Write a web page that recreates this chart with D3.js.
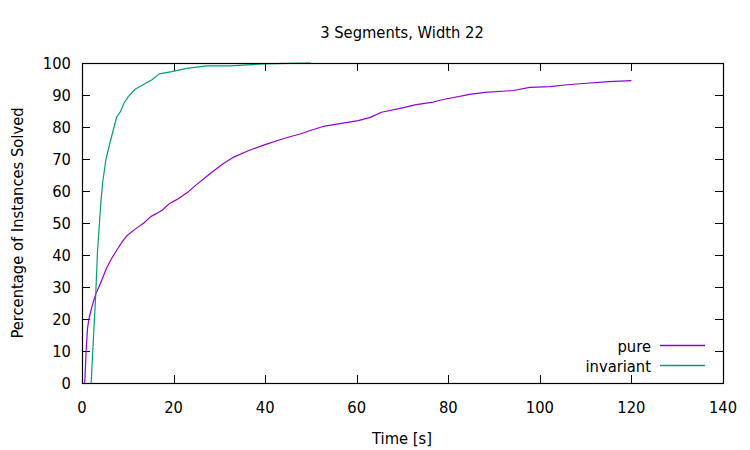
<!DOCTYPE html>
<html>
<head>
<meta charset="utf-8">
<script src="https://cdn.jsdelivr.net/npm/d3@7"></script>
<style>
  body { margin: 0; background: #fff; }
  svg text { font-family: "DejaVu Sans Condensed", "DejaVu Sans", sans-serif; font-stretch: condensed; fill: #000; }
</style>
</head>
<body>
<svg id="chart" width="750" height="450"></svg>
<script>
const title = "3 Segments, Width 22";
const xLabel = "Time [s]";
const yLabel = "Percentage of Instances Solved";
const xTicks = [0, 20, 40, 60, 80, 100, 120, 140];
const yTicks = [0, 10, 20, 30, 40, 50, 60, 70, 80, 90, 100];

const pureTime = [0.6, 0.9, 1.2, 1.5, 2.2, 3.0, 4.0, 5.4, 6.5, 7.6, 8.7, 9.8, 11.9, 13.5, 15, 16.3, 17.5, 19.2, 20.7, 23, 25, 27, 28.5, 30.8, 33, 36.7, 40, 43.2, 45, 47.6, 50, 53, 56, 60.3, 63, 65.4, 70, 73, 76.7, 78.9, 84.7, 88, 94.2, 97.8, 102.2, 106, 109.5, 115, 120];
const pureValue = [0, 10, 17, 20, 24, 27.8, 31, 36, 39, 41.5, 44, 46, 48.4, 50, 52, 53, 54, 56.2, 57.3, 59.5, 62, 64.3, 66, 68.5, 70.5, 72.8, 74.5, 76, 76.8, 77.8, 79, 80.3, 81, 82, 83, 84.6, 86, 87, 87.8, 88.6, 90.2, 90.8, 91.4, 92.4, 92.6, 93.2, 93.6, 94.2, 94.5];

const invTime = [2.0, 2.5, 3.0, 3.4, 4.15, 4.5, 5.2, 6.1, 7.0, 7.6, 8.4, 9.2, 10.1, 11.6, 13.8, 15.2, 16.9, 19.6, 22.9, 27.2, 32.3, 39.5, 45, 50];
const invValue = [0, 14, 27.8, 41.5, 57, 62.5, 69.7, 75, 80, 83.2, 84.8, 87.5, 89.5, 91.8, 93.6, 94.7, 96.6, 97.3, 98.3, 99.1, 99.1, 99.7, 99.9, 100];

const seriesNames = ["pure", "invariant"];
const seriesColors = ["#9400d3", "#009e73"];

const svg = d3.select("#chart");
const mLeft = 82, mRight = 723, mTop = 63, mBottom = 383;
const x = d3.scaleLinear().domain([0, 140]).range([mLeft, mRight]);
const y = d3.scaleLinear().domain([0, 100]).range([mBottom, mTop]);
const tickLen = 8;
const fs = 16.4;

// ticks (inside, mirrored)
const g = svg.append("g");
xTicks.forEach(t => {
  const px = Math.round(x(t)) + 0.5;
  g.append("line").attr("x1", px).attr("x2", px).attr("y1", mBottom).attr("y2", mBottom - tickLen).attr("stroke", "#000");
  g.append("line").attr("x1", px).attr("x2", px).attr("y1", mTop).attr("y2", mTop + tickLen).attr("stroke", "#000");
  g.append("text").attr("x", x(t)).attr("y", 413).attr("text-anchor", "middle").attr("font-size", fs).text(t);
});
yTicks.forEach(t => {
  const py = Math.round(y(t)) + 0.5;
  g.append("line").attr("x1", mLeft).attr("x2", mLeft + tickLen).attr("y1", py).attr("y2", py).attr("stroke", "#000");
  g.append("line").attr("x1", mRight).attr("x2", mRight - tickLen).attr("y1", py).attr("y2", py).attr("stroke", "#000");
  g.append("text").attr("x", 71).attr("y", y(t) + 6).attr("text-anchor", "end").attr("font-size", fs).text(t);
});

// data lines
const line = d3.line().x(d => x(d[0])).y(d => y(d[1]));
const pureData = pureTime.map((t, i) => [t, pureValue[i]]);
const invData = invTime.map((t, i) => [t, invValue[i]]);
[pureData, invData].forEach((d, i) => {
  svg.append("path").datum(d).attr("d", line).attr("fill", "none")
    .attr("stroke", seriesColors[i]).attr("stroke-width", 1.2).attr("stroke-linejoin", "round");
});

// border
svg.append("rect").attr("x", mLeft + 0.5).attr("y", mTop + 0.5).attr("width", mRight - mLeft).attr("height", mBottom - mTop)
  .attr("fill", "none").attr("stroke", "#000").attr("stroke-width", 1.2);

// legend
const legend = svg.append("g");
seriesNames.forEach((n, i) => {
  const ly = 346 + i * 20;
  legend.append("text").attr("x", 651).attr("y", ly + 6).attr("text-anchor", "end").attr("font-size", fs).text(n);
  legend.append("path").attr("d", `M660,${ly - 0.5}H705`).attr("fill", "none")
    .attr("stroke", seriesColors[i]).attr("stroke-width", 1.5);
});

// titles
svg.append("text").attr("x", 402).attr("y", 38).attr("text-anchor", "middle").attr("font-size", fs).text(title);
svg.append("text").attr("x", 402).attr("y", 444).attr("text-anchor", "middle").attr("font-size", fs).text(xLabel);
svg.append("text").attr("transform", "translate(23,223) rotate(-90)").attr("text-anchor", "middle").attr("font-size", fs).text(yLabel);
</script>
</body>
</html>
